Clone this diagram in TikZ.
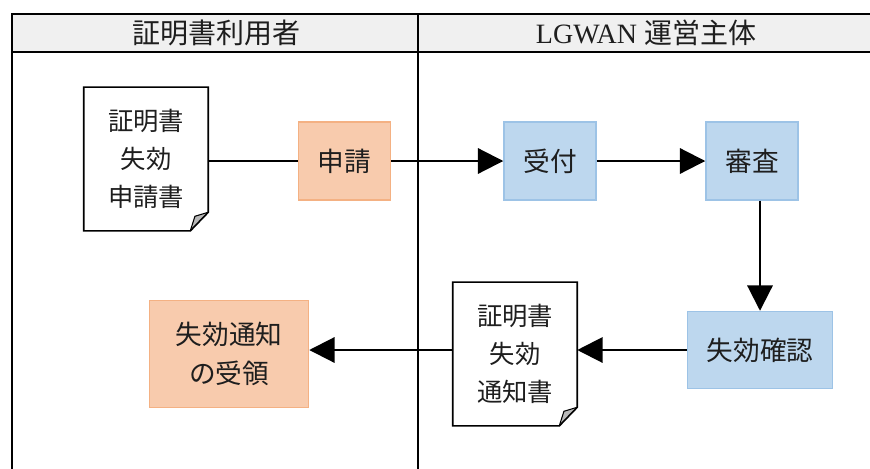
\documentclass[tikz,border=0pt]{standalone}
\usepackage{fontspec}
\setmainfont{Liberation Serif}
\newfontfamily\jp{Noto Sans CJK JP}
\usetikzlibrary{arrows.meta,calc}
\definecolor{orfill}{HTML}{F8CBAD}
\definecolor{ordraw}{HTML}{F4B183}
\definecolor{blfill}{HTML}{BDD7EE}
\definecolor{bldraw}{HTML}{9DC3E6}
\definecolor{hdr}{HTML}{F0F0F0}
\definecolor{txt}{HTML}{1E1E1E}
\definecolor{fold}{HTML}{B8B8B8}
\tikzset{
  frame/.style={line width=1.6pt, black},
  orbox/.style={draw=ordraw, fill=orfill, line width=1.1pt, text=txt, font=\jp\fontsize{20}{29}\selectfont, align=center, inner sep=0pt},
  blbox/.style={draw=bldraw, fill=blfill, line width=1.1pt, text=txt, font=\jp\fontsize{20}{29}\selectfont, align=center, inner sep=0pt},
  docnode/.style={draw=none, text=txt, font=\jp\fontsize{19}{28.5}\selectfont, align=center, inner sep=0pt, minimum width=93pt, minimum height=107.5pt},
  docline/.style={line width=1.2pt, black},
  flow/.style={line width=1.6pt, black, -{Triangle[length=19pt,width=19pt]}},
  plainflow/.style={line width=1.6pt, black},
  hdrtext/.style={font=\fontsize{21}{24}\selectfont, text=txt}
}
\begin{document}
\begin{tikzpicture}[x=0.75pt,y=-0.75pt]
\useasboundingbox (0,0) rectangle (870,468);
% header
\fill[hdr] (12,14) rectangle (872,52);
\draw[frame] (872,14) -- (12,14) -- (12,470);
\draw[frame] (12,52) -- (872,52);
\draw[frame] (418,14) -- (418,470);
\node[hdrtext] (h1) at (216,33) {\jp 証明書利用者};
\node[hdrtext] (h2) at (646,33) {LGWAN {\jp 運営主体}};
% nodes
\node[docnode] (d1) at (146,159) {証明書\\失効\\申請書};
\node[orbox, minimum width=69pt, minimum height=58.5pt] (s) at (344.5,161) {申請};
\node[blbox, minimum width=69pt, minimum height=58.5pt] (u) at (550,161) {受付};
\node[blbox, minimum width=69pt, minimum height=58.5pt] (k) at (752,161) {審査};
\node[blbox, minimum width=108.75pt, minimum height=57.75pt] (kk) at (760,350) {失効確認};
\node[docnode] (d2) at (515,354) {証明書\\失効\\通知書};
\node[orbox, minimum width=119.25pt, minimum height=80.25pt] (r) at (229,354) {失効通知\\の受領};
% document outlines
\foreach \d in {d1,d2}{
  \fill[fold] ($(\d.south east)+(0,14pt)$) -- ($(\d.south east)+(-10pt,11pt)$) -- ($(\d.south east)+(-13.5pt,0)$) -- cycle;
  \draw[docline] (\d.north west) -- (\d.north east) -- ($(\d.south east)+(0,14pt)$) -- ($(\d.south east)+(-13.5pt,0)$) -- (\d.south west) -- cycle;
  \draw[line width=0.8pt] ($(\d.south east)+(0,14pt)$) -- ($(\d.south east)+(-10pt,11pt)$) -- ($(\d.south east)+(-13.5pt,0)$);
}
% connectors
\draw[plainflow] (s.west) -- (s.west -| d1.east);
\draw[flow] (s.east) -- (u.west);
\draw[flow] (u.east) -- (k.west);
\draw[flow] (kk.north |- k.south) -- (kk.north);
\draw[flow] (kk.west) -- (kk.west -| d2.east);
\draw[flow] (kk.west -| d2.west) -- (kk.west -| r.east);
\end{tikzpicture}
\end{document}
